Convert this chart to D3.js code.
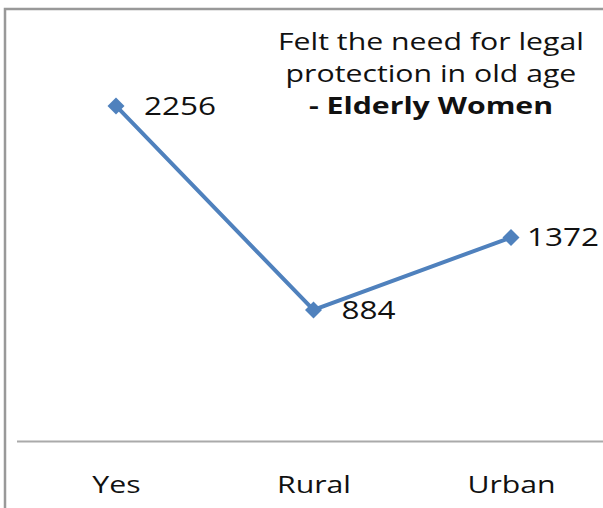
<!DOCTYPE html>
<html>
<head>
<meta charset="utf-8">
<script src="https://cdn.jsdelivr.net/npm/d3@7"></script>
<style>
  body { margin: 0; background: #fff; }
  text { font-family: 'Open Sans', sans-serif; fill: #111; }
</style>
</head>
<body>
<div id="chart"></div>
<script>
const categories = ['Yes', 'Rural', 'Urban'];
const values = [2256, 884, 1372];
const titleLines = ['Felt the need for legal', 'protection in old age', '- Elderly Women'];

const width = 603;
const height = 508;
const stretchK = 1.26;

// widen text a bit, the original font is broader than Open Sans
const stretch = (sel) => sel.each(function () {
  const w = this.getComputedTextLength();
  d3.select(this)
    .attr('textLength', w * stretchK)
    .attr('lengthAdjust', 'spacingAndGlyphs');
});

const svg = d3.select('#chart').append('svg')
  .attr('width', width)
  .attr('height', height);

// chart frame
svg.append('rect')
  .attr('x', 5)
  .attr('y', 9)
  .attr('width', 640)
  .attr('height', 560)
  .attr('fill', 'none')
  .attr('stroke', '#999')
  .attr('stroke-width', 2.5);

const x = d3.scalePoint()
  .domain(categories)
  .range([116, 511]);

const y = d3.scaleLinear()
  .domain([0, 2500])
  .range([441.4, 69.7]);

// category axis
const xAxis = svg.append('g')
  .attr('transform', `translate(0,${y(0)})`)
  .call(d3.axisBottom(x).tickSize(0).tickPadding(35));
xAxis.select('.domain')
  .attr('d', `M17,0H${width}`)
  .attr('stroke', '#aaa')
  .attr('stroke-width', 2);
xAxis.selectAll('text')
  .style('font-size', '24px')
  .style('font-family', "'Open Sans', sans-serif")
  .attr('fill', '#111')
  .call(stretch);

const data = categories.map((c, i) => ({ cat: c, value: values[i] }));

const line = d3.line()
  .x((d) => x(d.cat))
  .y((d) => y(d.value));

svg.append('path')
  .datum(data)
  .attr('d', line)
  .attr('fill', 'none')
  .attr('stroke', '#4F81BD')
  .attr('stroke-width', 4);

svg.append('g').selectAll('path')
  .data(data)
  .enter()
  .append('path')
  .attr('d', d3.symbol().type(d3.symbolDiamond2).size(185))
  .attr('transform', (d) => `translate(${x(d.cat)},${y(d.value)})`)
  .attr('fill', '#4F81BD');

// value labels, kept inside the chart area like Excel does
svg.append('g').selectAll('text')
  .data(data)
  .enter()
  .append('text')
  .attr('y', (d) => y(d.value))
  .attr('dy', '0.35em')
  .style('font-size', '25px')
  .text((d) => d.value)
  .call(stretch)
  .attr('x', function (d) {
    const w = +this.getAttribute('textLength');
    return Math.min(x(d.cat) + 28, width - 4 - w);
  });

// title
svg.append('g').selectAll('text')
  .data(titleLines)
  .enter()
  .append('text')
  .attr('x', 431)
  .attr('y', (d, i) => 50 + i * 32)
  .attr('text-anchor', 'middle')
  .style('font-size', '24px')
  .style('font-weight', (d, i) => (i === 2 ? 'bold' : 'normal'))
  .text((d) => d)
  .call(stretch);
</script>
</body>
</html>
